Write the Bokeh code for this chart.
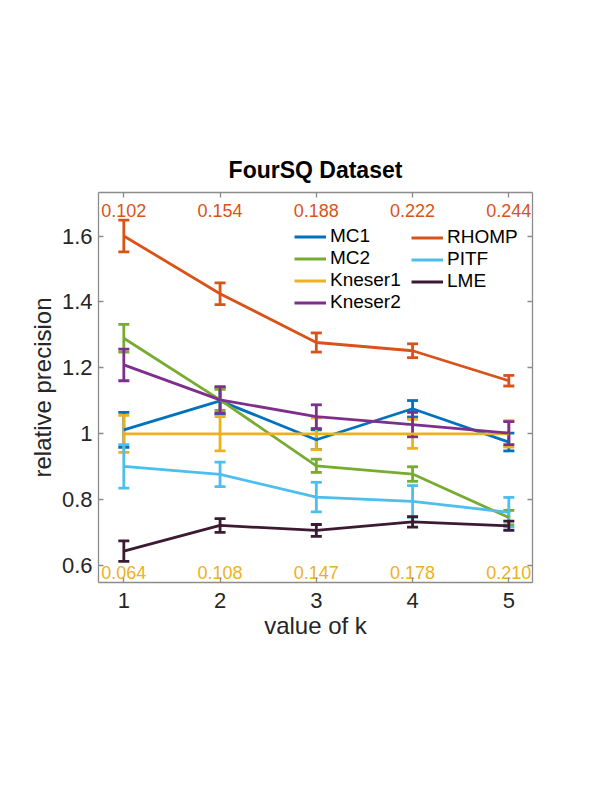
from bokeh.plotting import figure
from bokeh.models import (ColumnDataSource, Whisker, TeeHead, LinearAxis, FixedTicker,
                          Legend, LegendItem, Range1d, Title, CustomLabelingPolicy)
from bokeh.core.properties import value
from bokeh.embed import file_html
from bokeh.resources import INLINE

# ---------------- data ----------------
k = [1, 2, 3, 4, 5]
series_names = ["MC1", "MC2", "Kneser1", "Kneser2", "RHOMP", "PITF", "LME"]

mc1 = [1.012, 1.100, 0.982, 1.076, 0.975]
mc1_err = [0.053, 0.040, 0.030, 0.025, 0.027]
mc2 = [1.290, 1.103, 0.903, 0.878, 0.746]
mc2_err = [0.042, 0.032, 0.020, 0.022, 0.022]
kneser1 = [1.000, 1.000, 1.000, 1.000, 1.000]
kneser1_err = [0.056, 0.052, 0.048, 0.044, 0.040]
kneser2 = [1.209, 1.103, 1.052, 1.028, 1.002]
kneser2_err = [0.048, 0.040, 0.036, 0.037, 0.035]
rhomp = [1.600, 1.425, 1.277, 1.252, 1.161]
rhomp_err = [0.048, 0.033, 0.029, 0.021, 0.016]
pitf = [0.901, 0.877, 0.808, 0.795, 0.762]
pitf_err = [0.066, 0.037, 0.045, 0.048, 0.045]
lme = [0.644, 0.722, 0.707, 0.733, 0.721]
lme_err = [0.031, 0.021, 0.018, 0.016, 0.014]

top_labels = ["0.102", "0.154", "0.188", "0.222", "0.244"]
bottom_labels = ["0.064", "0.108", "0.147", "0.178", "0.210"]

x_ticks = [1, 2, 3, 4, 5]
y_ticks = [0.6, 0.8, 1.0, 1.2, 1.4, 1.6]
y_tick_labels = ["0.6", "0.8", "1", "1.2", "1.4", "1.6"]

# ---------------- style ----------------
colors = {
    "MC1": "#0072BD",
    "MC2": "#77AC30",
    "Kneser1": "#EDB120",
    "Kneser2": "#7E2F8E",
    "RHOMP": "#D95319",
    "PITF": "#4DBEEE",
    "LME": "#3D1A33",
}
FONT = "Liberation Sans"
AX_GRAY = "#8c8c8c"
TXT = "#262626"
LW = 2.8

values = {"MC1": (mc1, mc1_err), "MC2": (mc2, mc2_err), "Kneser1": (kneser1, kneser1_err),
          "Kneser2": (kneser2, kneser2_err), "RHOMP": (rhomp, rhomp_err),
          "PITF": (pitf, pitf_err), "LME": (lme, lme_err)}

p = figure(width=604, height=772, output_backend="svg", toolbar_location=None,
           x_range=Range1d(0.737, 5.246), y_range=Range1d(0.549, 1.732),
           min_border_left=98, min_border_right=72, min_border_top=192, min_border_bottom=190)
p.title = Title(text="FourSQ Dataset", align="center", text_font=FONT,
                text_font_size="23px", text_font_style="bold", text_color="black", standoff=11)
p.grid.visible = False
p.outline_line_color = None
p.background_fill_color = "white"
p.border_fill_color = "white"

def style_axis(ax, show_labels):
    ax.axis_line_color = AX_GRAY
    ax.axis_line_width = 1.3
    ax.major_tick_line_color = AX_GRAY
    ax.major_tick_line_width = 1.3
    ax.major_tick_in = 5
    ax.major_tick_out = 0
    ax.minor_tick_line_color = None
    ax.major_label_text_font = FONT
    ax.major_label_text_color = TXT
    ax.major_label_text_font_size = "22px" if show_labels else "1px"
    ax.axis_label_text_font = FONT
    ax.axis_label_text_font_style = "normal"
    ax.axis_label_text_color = TXT
    ax.axis_label_text_font_size = "24px"
    if not show_labels:
        ax.major_label_policy = CustomLabelingPolicy(
            code="for (const i of indices) indices.unset(i); return indices")

p.xaxis.ticker = FixedTicker(ticks=x_ticks)
p.yaxis.ticker = FixedTicker(ticks=y_ticks)
p.yaxis.major_label_overrides = {t: s for t, s in zip(y_ticks, y_tick_labels)}
p.xaxis.axis_label = "value of k"
p.yaxis.axis_label = "relative precision"
style_axis(p.xaxis[0], True)
style_axis(p.yaxis[0], True)
p.xaxis.major_label_standoff = 10
p.yaxis.major_label_standoff = 6
p.xaxis.axis_label_standoff = 1
p.yaxis.axis_label_standoff = 3

top_ax = LinearAxis(ticker=FixedTicker(ticks=x_ticks))
right_ax = LinearAxis(ticker=FixedTicker(ticks=y_ticks))
style_axis(top_ax, False)
style_axis(right_ax, False)
top_ax.major_label_standoff = 0
right_ax.major_label_standoff = 0
p.add_layout(top_ax, "above")
p.add_layout(right_ax, "right")

renderers = {}
for name in series_names:
    vals, errs = values[name]
    src = ColumnDataSource(dict(x=k, y=vals,
                                upper=[v + e for v, e in zip(vals, errs)],
                                lower=[v - e for v, e in zip(vals, errs)]))
    c = colors[name]
    r = p.line("x", "y", source=src, line_color=c, line_width=LW)
    w = Whisker(base="x", upper="upper", lower="lower", source=src,
                line_color=c, line_width=LW,
                upper_head=TeeHead(size=11, line_color=c, line_width=LW),
                lower_head=TeeHead(size=11, line_color=c, line_width=LW))
    p.add_layout(w)
    renderers[name] = r

# annotation rows of numbers
TOP_Y = 1.678
BOT_Y = 0.58
p.text(x=k, y=[TOP_Y] * len(k), text=top_labels, text_color=colors["RHOMP"],
       text_font=value(FONT), text_font_size="18px", text_align="center",
       text_baseline="middle")
p.text(x=k, y=[BOT_Y] * len(k), text=bottom_labels, text_color=colors["Kneser1"],
       text_font=value(FONT), text_font_size="18px", text_align="center",
       text_baseline="middle")

def make_legend(names, loc):
    lg = Legend(items=[LegendItem(label=n, renderers=[renderers[n]]) for n in names],
                location=loc, border_line_color=None, background_fill_alpha=0,
                padding=0, margin=0, spacing=0, label_height=21, glyph_height=21,
                glyph_width=32, label_standoff=4, label_text_font=FONT,
                label_text_font_size="19px", label_text_color="black")
    return lg

p.add_layout(make_legend(["MC1", "MC2", "Kneser1", "Kneser2"], (196, 269)))
p.add_layout(make_legend(["RHOMP", "PITF", "LME"], (313, 290)))

open("out.html", "w").write(file_html(p, INLINE))
